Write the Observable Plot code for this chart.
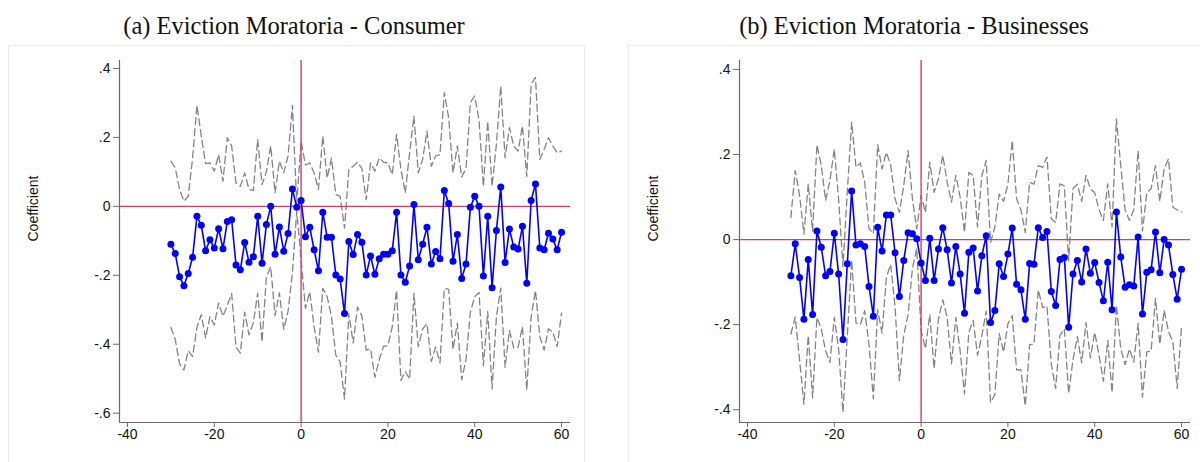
<!DOCTYPE html>
<html><head><meta charset="utf-8">
<script src="https://cdn.jsdelivr.net/npm/d3@7"></script>
<script src="https://cdn.jsdelivr.net/npm/@observablehq/plot@0.6"></script>
<style>
html,body{margin:0;padding:0;background:#fff;}
#root{position:relative;width:1200px;height:462px;overflow:hidden;background:#fff;}
.box{position:absolute;top:45px;height:430px;border:1px solid #ececec;}
.title{position:absolute;top:12px;width:600px;text-align:center;font-family:"Liberation Serif","Times New Roman",serif;font-size:24.5px;line-height:28px;color:#111;white-space:nowrap;}
.panel{position:absolute;top:45px;}
</style></head><body><div id="root"></div>
<script>
const titles = ["(a) Eviction Moratoria - Consumer", "(b) Eviction Moratoria - Businesses"];
const yLabel = "Coefficient";
const days = [-30,-29,-28,-27,-26,-25,-24,-23,-22,-21,-20,-19,-18,-17,-16,-15,-14,-13,-12,-11,
  -10,-9,-8,-7,-6,-5,-4,-3,-2,-1,0,1,2,3,4,5,6,7,8,9,10,11,12,13,14,15,16,17,18,19,
  20,21,22,23,24,25,26,27,28,29,30,31,32,33,34,35,36,37,38,39,40,41,42,43,44,45,46,47,48,49,
  50,51,52,53,54,55,56,57,58,59,60];
const xTicks = [-40,-20,0,20,40,60];
const yTicksA = [-0.6,-0.4,-0.2,0,0.2,0.4];
const yTicksB = [-0.4,-0.2,0,0.2,0.4];

// Panel (a) Consumer
const coefA = [-0.110,-0.137,-0.204,-0.230,-0.195,-0.148,-0.029,-0.055,-0.129,-0.097,
 -0.121,-0.065,-0.123,-0.044,-0.039,-0.170,-0.184,-0.105,-0.162,-0.146,
 -0.029,-0.165,-0.053,0.000,-0.139,-0.060,-0.130,-0.079,0.050,-0.003,
 0.017,-0.088,-0.061,-0.126,-0.187,-0.017,-0.090,-0.090,-0.199,-0.211,
 -0.311,-0.102,-0.140,-0.082,-0.104,-0.199,-0.144,-0.197,-0.152,-0.139,
 -0.139,-0.129,-0.017,-0.199,-0.220,-0.173,0.005,-0.155,-0.110,-0.061,
 -0.167,-0.131,-0.152,0.046,0.008,-0.159,-0.082,-0.209,-0.167,-0.003,
 0.029,0.000,-0.202,-0.029,-0.236,-0.070,0.056,-0.163,-0.066,-0.118,
 -0.124,-0.058,-0.223,0.017,0.065,-0.121,-0.126,-0.078,-0.095,-0.126,
 -0.075];
const upperA = [0.131,0.112,0.049,0.015,0.029,0.140,0.293,0.204,0.124,0.126,
 0.102,0.150,0.073,0.199,0.175,0.068,0.058,0.097,0.049,0.046,
 0.194,0.063,0.100,0.175,0.039,0.131,0.097,0.146,0.293,0.008,
 0.189,0.120,0.126,0.097,0.049,0.204,0.082,0.140,0.034,0.029,
 -0.063,0.107,0.116,0.128,0.110,0.019,0.126,0.102,0.141,0.128,
 0.126,0.092,0.209,0.107,0.039,0.155,0.262,0.097,0.136,0.218,
 0.116,0.146,0.150,0.330,0.257,0.097,0.175,0.085,0.110,0.301,
 0.320,0.250,0.058,0.247,0.058,0.180,0.349,0.141,0.228,0.175,
 0.160,0.233,0.087,0.354,0.374,0.136,0.165,0.199,0.175,0.155,
 0.160];
const lowerA = [-0.351,-0.386,-0.457,-0.475,-0.419,-0.436,-0.351,-0.314,-0.382,-0.320,
 -0.344,-0.280,-0.319,-0.287,-0.253,-0.408,-0.426,-0.307,-0.373,-0.338,
 -0.252,-0.393,-0.206,-0.175,-0.317,-0.251,-0.357,-0.304,-0.193,-0.014,
 -0.155,-0.296,-0.248,-0.349,-0.423,-0.238,-0.262,-0.320,-0.432,-0.451,
 -0.559,-0.311,-0.396,-0.292,-0.318,-0.417,-0.414,-0.496,-0.445,-0.406,
 -0.404,-0.350,-0.243,-0.505,-0.479,-0.501,-0.252,-0.407,-0.356,-0.340,
 -0.450,-0.408,-0.454,-0.238,-0.241,-0.415,-0.339,-0.503,-0.444,-0.307,
 -0.262,-0.250,-0.462,-0.305,-0.530,-0.320,-0.237,-0.467,-0.360,-0.411,
 -0.408,-0.349,-0.533,-0.320,-0.244,-0.378,-0.417,-0.355,-0.365,-0.407,
 -0.310];

// Panel (b) Businesses
const coefB = [-0.085,-0.010,-0.089,-0.187,-0.047,-0.176,0.020,-0.018,-0.085,-0.075,
 0.015,-0.081,-0.235,-0.057,0.114,-0.013,-0.010,-0.016,-0.110,-0.180,
 0.029,-0.027,0.058,0.058,-0.031,-0.134,-0.049,0.016,0.014,0.002,
 -0.055,-0.096,0.003,-0.096,-0.022,0.028,-0.024,-0.102,-0.016,-0.081,
 -0.173,-0.030,-0.020,-0.121,-0.038,0.009,-0.195,-0.167,-0.057,-0.087,
 -0.034,0.027,-0.105,-0.118,-0.187,-0.056,-0.058,0.028,0.005,0.019,
 -0.122,-0.155,-0.047,-0.042,-0.206,-0.081,-0.049,-0.100,-0.022,-0.079,
 -0.054,-0.101,-0.144,-0.053,-0.165,0.065,-0.041,-0.112,-0.106,-0.109,
 0.006,-0.175,-0.077,-0.071,0.018,-0.078,0.000,-0.013,-0.082,-0.140,
 -0.070];
const upperB = [0.052,0.162,0.104,0.013,0.131,0.020,0.223,0.174,0.092,0.139,
 0.213,0.095,-0.064,0.113,0.276,0.170,0.180,0.135,0.026,0.014,
 0.223,0.166,0.205,0.174,0.096,0.064,0.127,0.209,0.096,0.025,
 0.104,0.064,0.182,0.111,0.143,0.198,0.135,0.088,0.151,0.100,
 0.017,0.158,0.150,0.030,0.150,0.186,-0.007,0.030,0.107,0.090,
 0.130,0.233,0.096,0.070,0.017,0.135,0.130,0.174,0.170,0.194,
 0.049,0.040,0.131,0.126,-0.050,0.120,0.130,0.090,0.151,0.120,
 0.110,0.070,0.045,0.131,0.030,0.284,0.174,0.070,0.045,0.070,
 0.209,0.020,0.110,0.120,0.174,0.090,0.166,0.190,0.076,0.070,
 0.065];
const lowerB = [-0.222,-0.182,-0.282,-0.387,-0.225,-0.372,-0.183,-0.210,-0.262,-0.289,
 -0.183,-0.257,-0.406,-0.227,-0.048,-0.196,-0.200,-0.167,-0.246,-0.374,
 -0.165,-0.220,-0.089,-0.058,-0.158,-0.332,-0.225,-0.177,-0.068,-0.021,
 -0.214,-0.256,-0.176,-0.303,-0.187,-0.142,-0.183,-0.292,-0.183,-0.262,
 -0.363,-0.218,-0.190,-0.272,-0.226,-0.168,-0.383,-0.364,-0.221,-0.264,
 -0.198,-0.179,-0.306,-0.306,-0.391,-0.247,-0.246,-0.118,-0.160,-0.156,
 -0.293,-0.350,-0.225,-0.210,-0.362,-0.282,-0.228,-0.290,-0.195,-0.278,
 -0.218,-0.272,-0.333,-0.237,-0.360,-0.154,-0.256,-0.294,-0.257,-0.288,
 -0.197,-0.370,-0.264,-0.262,-0.138,-0.246,-0.166,-0.216,-0.240,-0.350,
 -0.205];

const RED = "#cf4164";
const AXIS = "#6a6a6a";
const fmtY = d => d === 0 ? "0" : (d < 0 ? "-" : "") + Math.abs(d).toFixed(1).replace(/^0/, "");

function makePanel(coef, upper, lower, yDomain, yTicks) {
  const data = days.map((d, i) => ({day: d, coef: coef[i], upper: upper[i], lower: lower[i]}));
  const xDomain = [-41.84, 62.07];
  return Plot.plot({
    width: 580, height: 417,
    marginLeft: 119, marginRight: 10, marginTop: 15, marginBottom: 40,
    x: {domain: xDomain},
    y: {domain: yDomain},
    style: {fontFamily: "'Liberation Sans', Arial, sans-serif", fontSize: "14px", color: "#111", background: "transparent", overflow: "visible"},
    marks: [
      Plot.axisX({ticks: xTicks, tickSize: 5, tickPadding: 2, tickFormat: d => String(d), label: null, fontSize: 14, stroke: AXIS, fill: "#111"}),
      Plot.axisY({ticks: yTicks, tickSize: 6, tickPadding: 3, tickFormat: fmtY, label: null, fontSize: 14, stroke: AXIS, fill: "#111"}),
      Plot.ruleX([xDomain[0]], {stroke: AXIS, strokeWidth: 1.2}),
      Plot.ruleY([yDomain[0]], {stroke: AXIS, strokeWidth: 1.2}),
      Plot.line(data, {x: "day", y: "upper", stroke: "#838383", strokeWidth: 1.3, strokeDasharray: "7,4"}),
      Plot.line(data, {x: "day", y: "lower", stroke: "#838383", strokeWidth: 1.3, strokeDasharray: "7,4"}),
      Plot.ruleX([0], {stroke: RED, strokeWidth: 1.4}),
      Plot.ruleY([0], {stroke: RED, strokeWidth: 1.4}),
      Plot.line(data, {x: "day", y: "coef", stroke: "#0000ff", strokeWidth: 1.6}),
      Plot.dot(data, {x: "day", y: "coef", r: 3.5, fill: "#0000ff", stroke: "none"}),
      Plot.text([yLabel], {frameAnchor: "left", dx: -86, rotate: -90, fontSize: 14, fill: "#111"})
    ]
  });
}

const root = document.getElementById("root");
[[8, 575], [628, 580]].forEach(([l, w]) => {
  const b = document.createElement("div");
  b.className = "box"; b.style.left = l + "px"; b.style.width = w + "px";
  root.appendChild(b);
});
[[-6, titles[0]], [614, titles[1]]].forEach(([l, t]) => {
  const d = document.createElement("div");
  d.className = "title"; d.style.left = l + "px"; d.textContent = t;
  root.appendChild(d);
});
const pa = makePanel(coefA, upperA, lowerA, [-0.627, 0.423], yTicksA);
const pb = makePanel(coefB, upperB, lowerB, [-0.43, 0.421], yTicksB);
[[0, pa], [620, pb]].forEach(([l, p]) => {
  const w = document.createElement("div");
  w.className = "panel"; w.style.left = l + "px";
  w.appendChild(p);
  root.appendChild(w);
});
</script>
</body></html>
